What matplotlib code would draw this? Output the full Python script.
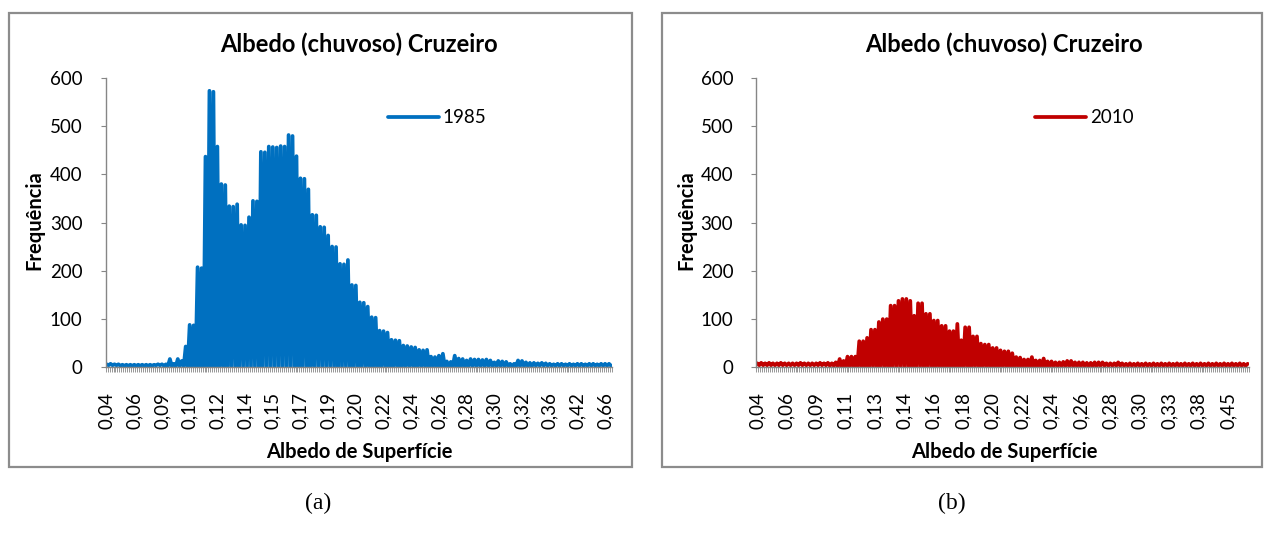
import numpy as np
import matplotlib as mpl

mpl.use('Agg')

import matplotlib.pyplot as plt
from matplotlib.patches import Rectangle

plt.rcParams['font.family'] = ['Lato', 'DejaVu Sans']

# ---- data (one value per albedo class) ----

# 1985, 256 classes, a label every 14 classes
freq_1985 = [
    5, 3, 6, 3, 5, 3, 5, 2, 4, 2, 4, 2, 4, 2,
    4, 2, 4, 2, 4, 2, 4, 2, 4, 2, 4, 3, 5, 3,
    5, 2, 5, 1, 16, 1, 6, 1, 16, 1, 12, 1, 42, 0,
    87, 0, 86, 0, 207, 0, 205, 0, 437, 0, 574, 0, 572, 0,
    458, 0, 380, 0, 378, 0, 334, 0, 333, 0, 338, 0, 295, 0,
    294, 0, 311, 0, 345, 0, 344, 0, 447, 0, 446, 0, 458, 0,
    457, 0, 456, 0, 459, 0, 458, 0, 482, 0, 480, 0, 438, 0,
    392, 0, 391, 0, 369, 0, 316, 0, 315, 0, 291, 0, 290, 0,
    273, 0, 250, 0, 249, 0, 214, 0, 213, 0, 222, 0, 170, 0,
    169, 0, 134, 0, 133, 0, 125, 0, 103, 0, 102, 0, 75, 0,
    74, 0, 71, 0, 56, 0, 55, 0, 54, 0, 44, 0, 43, 0,
    41, 0, 40, 0, 35, 0, 34, 0, 35, 0, 21, 0, 20, 0,
    23, 0, 27, 0, 11, 0, 10, 0, 23, 0, 17, 0, 16, 0,
    13, 1, 16, 1, 15, 1, 15, 1, 14, 1, 15, 1, 13, 1,
    9, 1, 12, 1, 11, 1, 10, 1, 6, 1, 6, 1, 13, 1,
    12, 1, 9, 1, 8, 1, 8, 2, 7, 2, 8, 2, 7, 2,
    6, 2, 5, 2, 6, 2, 6, 2, 5, 2, 6, 2, 5, 2,
    6, 2, 6, 2, 5, 2, 6, 2, 6, 2, 5, 2, 6, 2,
    6, 2, 6, 2,
]
labels_1985 = ['0,04', '0,06', '0,09', '0,10', '0,12', '0,14', '0,15', '0,17',
               '0,19', '0,20', '0,22', '0,24', '0,26', '0,28', '0,30', '0,32',
               '0,36', '0,42', '0,66']

# 2010, 251 classes, a label every 15 classes
freq_2010 = [
    7, 3, 8, 3, 7, 3, 8, 3, 7, 3, 7, 3, 8, 3, 7,
    3, 7, 3, 7, 3, 7, 3, 8, 3, 7, 3, 7, 3, 7, 3,
    7, 3, 8, 3, 7, 3, 8, 2, 7, 2, 9, 1, 16, 0, 12,
    0, 21, 0, 21, 0, 21, 0, 53, 0, 53, 0, 60, 0, 77, 0,
    77, 0, 93, 0, 99, 0, 99, 0, 127, 0, 127, 0, 137, 0, 141,
    0, 141, 0, 137, 0, 106, 0, 132, 0, 132, 0, 110, 0, 110, 0,
    96, 0, 96, 0, 85, 0, 85, 0, 74, 0, 74, 0, 89, 0, 55,
    0, 82, 0, 82, 0, 63, 0, 63, 0, 48, 0, 46, 0, 46, 0,
    39, 0, 39, 0, 34, 0, 32, 0, 32, 0, 28, 0, 20, 0, 19,
    0, 15, 0, 15, 0, 20, 0, 13, 0, 13, 0, 17, 0, 11, 0,
    11, 1, 9, 1, 9, 1, 10, 1, 12, 1, 12, 1, 9, 1, 9,
    1, 9, 1, 8, 1, 8, 1, 9, 1, 9, 2, 9, 2, 7, 2,
    7, 2, 7, 2, 9, 2, 7, 2, 6, 2, 7, 2, 6, 2, 7,
    2, 6, 2, 7, 2, 6, 2, 7, 2, 6, 2, 7, 2, 6, 2,
    7, 2, 6, 2, 7, 2, 6, 2, 7, 2, 6, 2, 7, 2, 6,
    2, 7, 2, 6, 2, 7, 2, 6, 2, 7, 2, 6, 2, 7, 2,
    6, 2, 7, 2, 6, 2, 7, 2, 6, 2, 6,
]
labels_2010 = ['0,04', '0,06', '0,09', '0,11', '0,13', '0,14', '0,16', '0,18',
               '0,20', '0,22', '0,24', '0,26', '0,28', '0,30', '0,33', '0,38',
               '0,45']

FIG_W, FIG_H = 1264, 536
GRAY = '#868686'


def px_rect(x0, y0, x1, y1):
    # pixel box (top-left origin) -> figure fraction [left, bottom, w, h]
    return [x0 / FIG_W, 1 - y1 / FIG_H, (x1 - x0) / FIG_W, (y1 - y0) / FIG_H]


# begin draw_panel
def draw_panel(fig, axBox, frameBox, values, tickLabels, labelStep,
               color, year, legendX):
    r = px_rect(*frameBox)
    fig.patches.append(Rectangle((r[0], r[1]), r[2], r[3], fill=False,
                                 edgecolor='#8c8c8c', lw=1.6,
                                 transform=fig.transFigure))

    ax = fig.add_axes(px_rect(*axBox))
    n = len(values)
    ax.plot(np.arange(n), values, color=color, lw=2.7,
            solid_joinstyle='round', solid_capstyle='round', label=year)

    ax.set_xlim(-0.5, n - 0.5)
    ax.set_ylim(0, 600)
    ax.set_yticks(np.arange(0, 601, 100))

    ax.set_xticks(np.arange(len(tickLabels)) * labelStep)
    ax.set_xticklabels(tickLabels, rotation=90)
    ax.set_xticks(np.arange(n + 1) - 0.5, minor=True)

    for s in ['top', 'right']:
        ax.spines[s].set_visible(False)
    for s in ['left', 'bottom']:
        ax.spines[s].set_color(GRAY)
        ax.spines[s].set_linewidth(1.0)

    ax.tick_params(axis='y', direction='out', length=3.6, width=0.8,
                   color=GRAY, pad=13, labelsize=13.5)
    ax.tick_params(axis='x', which='major', length=0, pad=18, labelsize=13.5)
    ax.tick_params(axis='x', which='minor', direction='out', length=3.8,
                   width=0.6, color=GRAY)

    ax.legend(loc='center left', bbox_to_anchor=(legendX, 0.863),
              frameon=False, fontsize=13.5, handlelength=2.7,
              handletextpad=0.2, borderpad=0, borderaxespad=0)
    return ax
# end draw_panel


fig = plt.figure(figsize=(FIG_W / 100, FIG_H / 100), dpi=100)

draw_panel(fig, (105.6, 78.3, 612, 366.7), (9, 13, 632, 467),
           freq_1985, labels_1985, 14, '#0070C0', '1985', 0.558)
draw_panel(fig, (756.3, 78.3, 1248.6, 366.7), (662, 13, 1262, 467),
           freq_2010, labels_2010, 15, '#C00000', '2010', 0.567)

for cx, ylx, cap, capx in [(359, 34, '(a)', 318), (1004, 686, '(b)', 952)]:
    fig.text(cx / FIG_W, 1 - 44 / FIG_H, 'Albedo (chuvoso) Cruzeiro',
             ha='center', va='center', fontsize=17, fontweight='bold')
    fig.text(cx / FIG_W, 1 - 452 / FIG_H, 'Albedo de Superfície',
             ha='center', va='center', fontsize=14.5, fontweight='bold')
    fig.text(ylx / FIG_W, 1 - 220 / FIG_H, 'Frequência', rotation=90,
             ha='center', va='center', fontsize=14.5, fontweight='bold')
    fig.text(capx / FIG_W, 1 - 503 / FIG_H, cap, ha='center', va='center',
             fontsize=17, family='Liberation Serif')

plt.savefig('out.png', dpi=100)
plt.close()
